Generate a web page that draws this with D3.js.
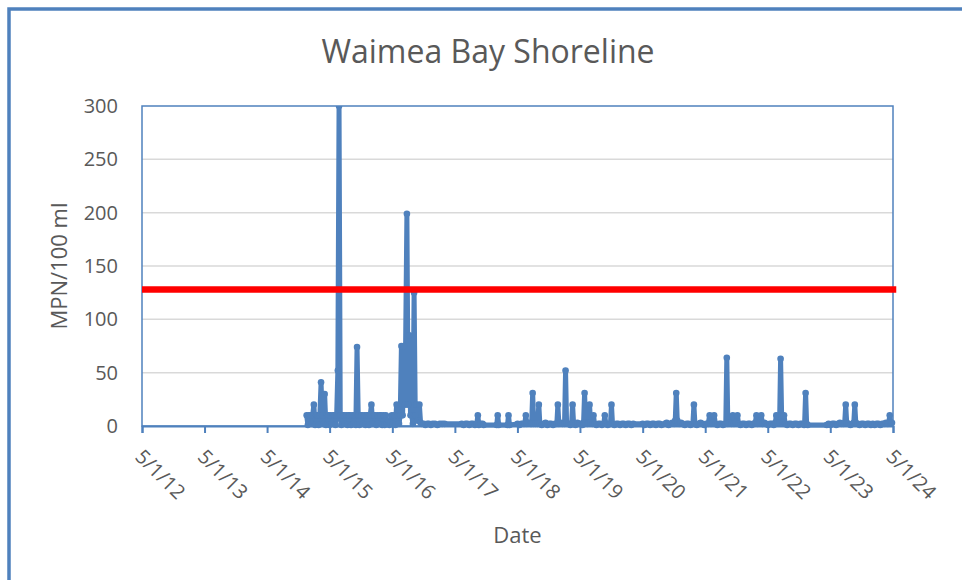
<!DOCTYPE html>
<html>
<head>
<meta charset="utf-8">
<script src="https://cdn.jsdelivr.net/npm/d3@7"></script>
<style>
  body { margin: 0; background: #fff; }
  svg { display: block; font-family: "Open Sans", sans-serif; }
</style>
</head>
<body>
<svg width="962" height="580"></svg>
<script>
const chartTitle = 'Waimea Bay Shoreline';
const yTicks = [0, 50, 100, 150, 200, 250, 300];
const xTickDates = ['2012-05-01', '2013-05-01', '2014-05-01', '2015-05-01', '2016-05-01', '2017-05-01',
  '2018-05-01', '2019-05-01', '2020-05-01', '2021-05-01', '2022-05-01', '2023-05-01', '2024-05-01'];
const xTickLabels = ['5/1/12', '5/1/13', '5/1/14', '5/1/15', '5/1/16', '5/1/17',
  '5/1/18', '5/1/19', '5/1/20', '5/1/21', '5/1/22', '5/1/23', '5/1/24'];
const threshold = [['2012-05-01', 128], ['2024-05-20', 128]];

// sample date, MPN/100 ml
const samples = [
  ['2014-12-18', 10], ['2014-12-25', 1], ['2015-01-01', 10], ['2015-01-08', 10], ['2015-01-15', 2],
  ['2015-01-22', 10], ['2015-01-29', 20], ['2015-02-05', 1], ['2015-02-12', 10], ['2015-02-19', 10],
  ['2015-02-26', 1], ['2015-03-05', 10], ['2015-03-12', 41], ['2015-03-19', 10], ['2015-03-26', 2],
  ['2015-04-02', 30], ['2015-04-09', 1], ['2015-04-16', 10], ['2015-04-23', 10], ['2015-04-30', 1],
  ['2015-05-07', 10], ['2015-05-14', 2], ['2015-05-21', 10], ['2015-05-28', 10], ['2015-06-04', 1],
  ['2015-06-11', 10], ['2015-06-18', 52], ['2015-06-25', 300], ['2015-07-02', 10], ['2015-07-09', 1],
  ['2015-07-16', 10], ['2015-07-23', 10], ['2015-07-30', 2], ['2015-08-06', 10], ['2015-08-13', 1],
  ['2015-08-20', 10], ['2015-08-27', 10], ['2015-09-03', 1], ['2015-09-10', 10], ['2015-09-17', 2],
  ['2015-09-24', 10], ['2015-10-01', 1], ['2015-10-08', 74], ['2015-10-15', 10], ['2015-10-22', 1],
  ['2015-10-29', 10], ['2015-11-05', 10], ['2015-11-12', 2], ['2015-11-19', 10], ['2015-11-26', 1],
  ['2015-12-03', 10], ['2015-12-10', 10], ['2015-12-17', 1], ['2015-12-24', 10], ['2015-12-31', 20],
  ['2016-01-07', 2], ['2016-01-14', 10], ['2016-01-21', 10], ['2016-01-28', 1], ['2016-02-04', 10],
  ['2016-02-11', 2], ['2016-02-18', 10], ['2016-02-25', 10], ['2016-03-03', 1], ['2016-03-10', 10],
  ['2016-03-17', 1], ['2016-03-24', 10], ['2016-03-31', 2], ['2016-04-07', 5], ['2016-04-14', 1],
  ['2016-04-21', 3], ['2016-04-28', 10], ['2016-05-05', 2], ['2016-05-12', 10], ['2016-05-19', 1],
  ['2016-05-26', 20], ['2016-06-02', 10], ['2016-06-09', 2], ['2016-06-16', 10], ['2016-06-23', 75],
  ['2016-06-30', 10], ['2016-07-07', 75], ['2016-07-14', 20], ['2016-07-25', 199], ['2016-08-01', 20],
  ['2016-08-08', 85], ['2016-08-15', 10], ['2016-08-22', 10], ['2016-08-29', 2], ['2016-09-05', 125],
  ['2016-09-12', 10], ['2016-09-19', 20], ['2016-09-26', 5], ['2016-10-06', 20], ['2016-10-13', 3],
  ['2016-10-20', 2], ['2016-10-31', 2], ['2016-11-10', 1], ['2016-11-21', 2], ['2016-12-01', 2],
  ['2016-12-12', 1], ['2016-12-22', 2], ['2017-01-05', 2], ['2017-01-19', 1], ['2017-02-02', 2],
  ['2017-02-16', 2], ['2017-03-02', 2],
  ['2017-06-10', 2], ['2017-06-21', 1], ['2017-07-02', 2], ['2017-07-13', 2], ['2017-07-24', 1],
  ['2017-08-04', 2], ['2017-08-15', 2], ['2017-08-26', 1], ['2017-09-06', 2], ['2017-09-12', 10],
  ['2017-09-18', 1], ['2017-09-29', 2], ['2017-10-10', 2], ['2017-10-16', 1],
  ['2017-12-31', 1], ['2018-01-06', 10], ['2018-01-12', 1],
  ['2018-03-04', 1], ['2018-03-10', 10], ['2018-03-16', 1],
  ['2018-05-02', 2], ['2018-05-13', 1], ['2018-05-24', 2], ['2018-06-04', 2], ['2018-06-13', 2],
  ['2018-06-19', 10], ['2018-06-25', 2], ['2018-07-06', 3], ['2018-07-17', 2], ['2018-07-23', 2],
  ['2018-07-29', 31], ['2018-08-04', 2], ['2018-08-15', 2], ['2018-08-26', 2], ['2018-09-03', 20],
  ['2018-09-09', 2], ['2018-09-20', 1], ['2018-10-01', 2], ['2018-10-12', 3], ['2018-10-23', 1],
  ['2018-11-03', 2], ['2018-11-14', 2], ['2018-11-25', 1], ['2018-12-06', 2], ['2018-12-17', 2],
  ['2018-12-23', 20], ['2018-12-29', 2], ['2019-01-09', 3], ['2019-01-20', 2], ['2019-01-31', 2],
  ['2019-02-06', 52], ['2019-02-12', 3], ['2019-02-23', 2], ['2019-03-06', 1], ['2019-03-13', 2],
  ['2019-03-19', 20], ['2019-03-25', 2], ['2019-04-05', 1], ['2019-04-16', 3], ['2019-04-27', 2],
  ['2019-05-08', 2], ['2019-05-16', 1], ['2019-05-22', 3], ['2019-05-28', 31], ['2019-06-03', 3],
  ['2019-06-14', 2], ['2019-06-20', 3], ['2019-06-26', 20], ['2019-07-02', 3], ['2019-07-13', 2],
  ['2019-07-19', 10], ['2019-07-25', 2], ['2019-08-05', 1], ['2019-08-16', 2], ['2019-08-27', 2],
  ['2019-09-06', 1], ['2019-09-17', 2], ['2019-09-23', 10], ['2019-09-29', 2], ['2019-10-10', 1],
  ['2019-10-20', 2], ['2019-10-26', 2], ['2019-11-01', 20], ['2019-11-07', 2], ['2019-11-18', 1],
  ['2019-11-29', 2], ['2019-12-10', 2], ['2019-12-21', 1], ['2020-01-01', 2], ['2020-01-12', 2],
  ['2020-01-23', 1], ['2020-02-03', 2], ['2020-02-14', 2], ['2020-02-25', 1], ['2020-03-07', 2],
  ['2020-05-01', 2], ['2020-05-12', 1], ['2020-05-23', 2], ['2020-06-03', 2], ['2020-06-14', 1],
  ['2020-06-25', 2], ['2020-07-06', 2], ['2020-07-17', 1], ['2020-07-28', 2], ['2020-08-08', 2],
  ['2020-08-19', 1],
  ['2020-09-07', 2], ['2020-09-18', 3], ['2020-09-29', 1], ['2020-10-10', 2], ['2020-10-21', 3],
  ['2020-11-01', 2], ['2020-11-07', 5], ['2020-11-13', 31], ['2020-11-19', 5], ['2020-11-30', 2],
  ['2020-12-11', 3], ['2020-12-22', 2], ['2021-01-02', 1], ['2021-01-13', 2], ['2021-01-24', 2],
  ['2021-02-04', 1], ['2021-02-18', 2], ['2021-02-24', 20], ['2021-03-02', 2], ['2021-03-13', 1],
  ['2021-03-24', 2], ['2021-04-04', 3], ['2021-04-15', 2], ['2021-04-26', 1], ['2021-05-07', 2],
  ['2021-05-18', 2], ['2021-05-27', 10], ['2021-06-04', 2], ['2021-06-14', 3], ['2021-06-22', 10],
  ['2021-06-30', 2], ['2021-07-11', 1], ['2021-07-22', 2], ['2021-08-02', 2], ['2021-08-13', 1],
  ['2021-08-24', 2], ['2021-08-29', 2], ['2021-09-04', 64], ['2021-09-10', 2], ['2021-09-21', 3],
  ['2021-10-02', 2], ['2021-10-09', 10], ['2021-10-16', 2], ['2021-10-27', 3], ['2021-11-05', 10],
  ['2021-11-12', 2], ['2021-11-23', 1], ['2021-12-04', 2], ['2021-12-15', 2], ['2021-12-26', 1],
  ['2022-01-06', 2], ['2022-01-17', 2], ['2022-01-28', 1], ['2022-02-08', 2], ['2022-02-17', 3],
  ['2022-02-24', 10], ['2022-03-03', 2], ['2022-03-14', 3], ['2022-03-24', 10], ['2022-03-31', 2],
  ['2022-04-11', 3], ['2022-04-22', 2], ['2022-05-03', 1], ['2022-05-14', 2], ['2022-05-25', 2],
  ['2022-06-05', 1], ['2022-06-14', 3], ['2022-06-20', 10], ['2022-06-28', 3], ['2022-07-09', 3],
  ['2022-07-15', 63], ['2022-07-21', 10], ['2022-07-28', 3], ['2022-08-04', 10], ['2022-08-11', 2],
  ['2022-08-22', 1], ['2022-09-02', 2], ['2022-09-13', 2], ['2022-09-24', 1], ['2022-10-05', 2],
  ['2022-10-16', 2], ['2022-10-27', 1], ['2022-11-07', 2], ['2022-11-18', 2], ['2022-11-29', 1],
  ['2022-12-02', 2], ['2022-12-08', 31], ['2022-12-14', 2], ['2022-12-20', 1],
  ['2023-04-10', 1], ['2023-04-21', 2], ['2023-05-02', 1], ['2023-05-13', 2], ['2023-05-24', 2],
  ['2023-06-04', 1], ['2023-06-15', 2], ['2023-06-26', 3], ['2023-07-07', 2], ['2023-07-18', 2],
  ['2023-07-24', 3], ['2023-07-30', 20], ['2023-08-05', 3], ['2023-08-16', 2], ['2023-08-27', 1],
  ['2023-09-07', 2], ['2023-09-15', 3], ['2023-09-21', 20], ['2023-09-27', 3], ['2023-10-08', 2],
  ['2023-10-19', 1], ['2023-10-30', 2], ['2023-11-10', 2], ['2023-11-21', 1], ['2023-12-02', 2],
  ['2023-12-13', 2], ['2023-12-24', 1], ['2024-01-04', 2], ['2024-01-15', 1], ['2024-01-26', 2],
  ['2024-02-06', 2], ['2024-02-17', 1], ['2024-02-28', 2], ['2024-03-10', 2], ['2024-03-21', 3],
  ['2024-04-01', 2], ['2024-04-06', 3], ['2024-04-12', 10], ['2024-04-18', 3], ['2024-04-25', 3]
];

const parse = d3.timeParse('%Y-%m-%d');
const blue = '#4f81bd';
const grey = '#595959';

const svg = d3.select('svg');
const plot = { left: 142, right: 893, top: 106, bottom: 426 };

const x = d3.scaleTime()
  .domain([parse(xTickDates[0]), parse(xTickDates[xTickDates.length - 1])])
  .range([plot.left, plot.right]);
const y = d3.scaleLinear().domain([0, 300]).range([plot.bottom, plot.top]);

// chart frame (runs off the right / bottom edge like the screenshot)
svg.append('rect')
  .attr('x', 9).attr('y', 9).attr('width', 1000).attr('height', 1000)
  .attr('fill', 'none').attr('stroke', blue).attr('stroke-width', 3.5);

svg.append('text')
  .attr('x', 488).attr('y', 63)
  .attr('text-anchor', 'middle')
  .attr('font-size', 32).attr('fill', grey)
  .text(chartTitle);

// gridlines
svg.append('g')
  .selectAll('line')
  .data(yTicks.slice(1, -1))
  .join('line')
  .attr('x1', plot.left).attr('x2', plot.right)
  .attr('y1', d => y(d)).attr('y2', d => y(d))
  .attr('stroke', '#d9d9d9').attr('stroke-width', 1.5);

// plot area border
svg.append('rect')
  .attr('x', plot.left).attr('y', plot.top)
  .attr('width', plot.right - plot.left).attr('height', plot.bottom - plot.top)
  .attr('fill', 'none').attr('stroke', blue).attr('stroke-width', 1.5);

// y axis labels
svg.append('g')
  .selectAll('text')
  .data(yTicks)
  .join('text')
  .attr('x', plot.left - 24)
  .attr('y', d => y(d))
  .attr('dy', '0.35em')
  .attr('text-anchor', 'end')
  .attr('font-size', 20).attr('fill', grey)
  .text(d => d);

// x axis with ticks pointing down
const xAxis = d3.axisBottom(x)
  .tickValues(xTickDates.map(parse))
  .tickSize(7)
  .tickFormat('');
const gx = svg.append('g')
  .attr('transform', `translate(0,${plot.bottom})`)
  .call(xAxis);
gx.select('.domain').attr('stroke', blue).attr('stroke-width', 2);
gx.selectAll('.tick line').attr('stroke', blue).attr('stroke-width', 2);

svg.append('g')
  .selectAll('text')
  .data(xTickDates)
  .join('text')
  .attr('transform', d => `translate(${x(parse(d)) - 3},453) rotate(45)`)
  .attr('dy', '0.35em')
  .attr('font-size', 20).attr('fill', grey)
  .text((d, i) => xTickLabels[i]);

// axis titles
svg.append('text')
  .attr('transform', `translate(67,${(plot.top + plot.bottom) / 2}) rotate(-90)`)
  .attr('text-anchor', 'middle')
  .attr('font-size', 22).attr('fill', grey)
  .text('MPN/100 ml');

svg.append('text')
  .attr('x', (plot.left + plot.right) / 2).attr('y', 543)
  .attr('text-anchor', 'middle')
  .attr('font-size', 22).attr('fill', grey)
  .text('Date');

// clip the series at the top of the plot area
svg.append('clipPath').attr('id', 'clip')
  .append('rect')
  .attr('x', 0).attr('y', plot.top)
  .attr('width', 962).attr('height', 400);

const series = svg.append('g').attr('clip-path', 'url(#clip)');

const line = d3.line()
  .x(d => x(parse(d[0])))
  .y(d => y(d[1]));

series.append('path')
  .datum(samples)
  .attr('d', line)
  .attr('fill', 'none')
  .attr('stroke', blue)
  .attr('stroke-width', 5)
  .attr('stroke-linejoin', 'round')
  .attr('stroke-linecap', 'round');

series.selectAll('circle')
  .data(samples)
  .join('circle')
  .attr('cx', d => x(parse(d[0])))
  .attr('cy', d => y(d[1]))
  .attr('r', 3.3)
  .attr('fill', blue);

// single sample threshold
svg.append('path')
  .datum(threshold)
  .attr('d', line)
  .attr('stroke', '#ff0000')
  .attr('stroke-width', 6.5);
</script>
</body>
</html>
